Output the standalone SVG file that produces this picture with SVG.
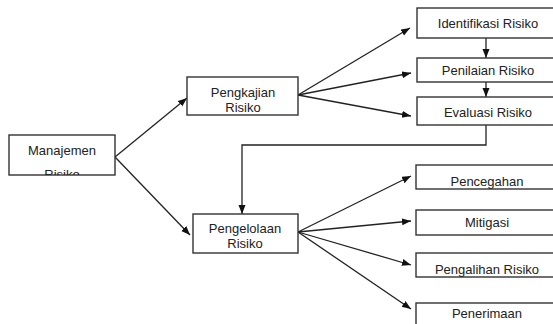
<svg xmlns="http://www.w3.org/2000/svg" width="553" height="324" viewBox="0 0 553 324">
<style>
.box{fill:#fff;stroke:#333;stroke-width:1.4}
.t{font-family:"Liberation Sans",Arial,sans-serif;font-size:13px;fill:#222;text-anchor:middle}
.c{fill:none;stroke:#222;stroke-width:1.3;marker-end:url(#ah)}
</style>
<defs>
<marker id="ah" markerUnits="userSpaceOnUse" markerWidth="10" markerHeight="8" refX="9" refY="3.5" orient="auto">
<path d="M0,0 L9,3.5 L0,7 z" fill="#111"/>
</marker>
<clipPath id="cm"><rect x="9" y="135" width="106" height="40"/></clipPath>
<clipPath id="cp"><rect x="416" y="165" width="142" height="24"/></clipPath>
<clipPath id="cg"><rect x="416" y="253" width="142" height="24"/></clipPath>
</defs>
<rect width="553" height="324" fill="#fff"/>
<g id="connectors">
<line class="c" x1="115" y1="157" x2="187" y2="98"/>
<line class="c" x1="115" y1="157" x2="190" y2="235"/>
<line class="c" x1="298" y1="95" x2="410" y2="28"/>
<line class="c" x1="298" y1="95" x2="411" y2="73"/>
<line class="c" x1="298" y1="95" x2="411" y2="116"/>
<line class="c" x1="486" y1="38" x2="486" y2="58"/>
<line class="c" x1="486" y1="82" x2="486" y2="97"/>
<path class="c" d="M486,125 V145 H242 V214"/>
<line class="c" x1="298" y1="232" x2="411" y2="176"/>
<line class="c" x1="298" y1="232" x2="411" y2="221"/>
<line class="c" x1="298" y1="232" x2="411" y2="265"/>
<line class="c" x1="298" y1="232" x2="411" y2="309"/>
</g>
<g id="manajemen">
<rect class="box" x="9" y="135" width="106" height="40"/>
<g clip-path="url(#cm)">
<text class="t" x="62" y="155">Manajemen</text>
<text class="t" x="62" y="178.5">Risiko</text>
</g>
</g>
<g id="pengkajian">
<rect class="box" x="187" y="77" width="111" height="38"/>
<text class="t" x="243" y="96.5">Pengkajian</text>
<text class="t" x="243" y="111.5">Risiko</text>
</g>
<g id="pengelolaan">
<rect class="box" x="193" y="214" width="105" height="39"/>
<text class="t" x="245" y="233">Pengelolaan</text>
<text class="t" x="245" y="247.5">Risiko</text>
</g>
<g id="identifikasi">
<rect class="box" x="417" y="8" width="141" height="30"/>
<text class="t" x="488" y="28">Identifikasi Risiko</text>
</g>
<g id="penilaian">
<rect class="box" x="417" y="58" width="141" height="24"/>
<text class="t" x="488" y="75">Penilaian Risiko</text>
</g>
<g id="evaluasi">
<rect class="box" x="417" y="97" width="141" height="28"/>
<text class="t" x="488" y="117">Evaluasi Risiko</text>
</g>
<g id="pencegahan">
<rect class="box" x="416" y="165" width="142" height="24"/>
<text class="t" x="487" y="186" clip-path="url(#cp)">Pencegahan</text>
</g>
<g id="mitigasi">
<rect class="box" x="416" y="210" width="142" height="25"/>
<text class="t" x="487" y="227">Mitigasi</text>
</g>
<g id="pengalihan">
<rect class="box" x="416" y="253" width="142" height="24"/>
<text class="t" x="487" y="274" clip-path="url(#cg)">Pengalihan Risiko</text>
</g>
<g id="penerimaan">
<rect class="box" x="416" y="303" width="142" height="30"/>
<text class="t" x="487" y="318">Penerimaan</text>
</g>
</svg>
